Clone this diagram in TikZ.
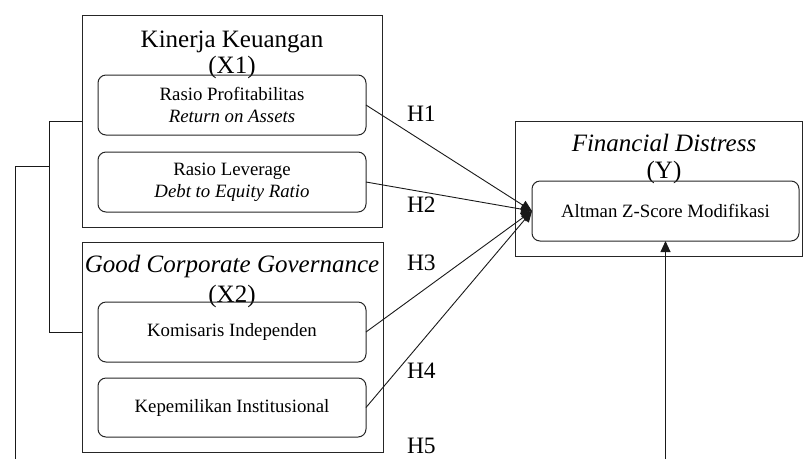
\documentclass[tikz,border=0pt]{standalone}
\usepackage{fontspec}
\setmainfont{Liberation Serif}
\usetikzlibrary{arrows.meta}
\begin{document}
\begin{tikzpicture}[x=1pt,y=-1pt,
  every node/.style={outer sep=0pt,inner sep=0pt},
  outerbox/.style={draw=black!85,line width=1pt,rectangle},
  innerbox/.style={draw=black!85,line width=1pt,rectangle,rounded corners=8pt,align=center,
    font=\fontsize{18.8}{22}\selectfont},
  titletext/.style={anchor=base,font=\fontsize{25}{30}\selectfont},
  hlabel/.style={anchor=base west,font=\fontsize{23.5}{26}\selectfont},
  conn/.style={line width=0.9pt,black!90},
  arr/.style={conn,-{Triangle[length=11pt,width=10pt]}}]
\useasboundingbox (0,0) rectangle (803,459);
% outer boxes
\node[outerbox,minimum width=300pt,minimum height=212pt] (x1) at (232,121) {};
\node[outerbox,minimum width=301pt,minimum height=210pt] (x2) at (232.5,347) {};
\node[outerbox,minimum width=287pt,minimum height=135pt] (y) at (658.5,188.5) {};
% titles
\node[titletext] (t1a) at (232,47) {Kinerja Keuangan};
\node[titletext] (t1b) at (232,73) {(X1)};
\node[titletext] (t2a) at (232,272) {\itshape Good Corporate Governance};
\node[titletext] (t2b) at (232,302) {(X2)};
\node[titletext] (t3a) at (664,151) {\itshape Financial Distress};
\node[titletext] (t3b) at (664,178) {(Y)};
% inner boxes
\node[innerbox,minimum width=268pt,minimum height=60pt] (roa) at (232,105) {Rasio Profitabilitas\\\itshape Return on Assets};
\node[innerbox,minimum width=268pt,minimum height=60pt] (der) at (232,182) {Rasio Leverage\\\itshape Debt to Equity Ratio};
\node[innerbox,minimum width=268pt,minimum height=60pt] (ki) at (232,332) {Komisaris Independen};
\node[innerbox,minimum width=268pt,minimum height=59pt] (kep) at (232,407.5) {Kepemilikan Institusional};
\node[innerbox,minimum width=267pt,minimum height=60pt] (alt) at (665.5,211) {Altman Z-Score Modifikasi};
% hypothesis labels
\node[hlabel] (h1) at (407,121) {H1};
\node[hlabel] (h2) at (407,212) {H2};
\node[hlabel] (h3) at (407,270) {H3};
\node[hlabel] (h4) at (407,378) {H4};
\node[hlabel] (h5) at (407,453) {H5};
% arrows
\draw[arr] (roa.east) -- (alt.west);
\draw[arr] (der.east) -- (alt.west);
\draw[arr] (ki.east) -- (alt.west);
\draw[arr] (kep.east) -- (alt.west);
% bracket
\coordinate (bk) at (49,166);
\coordinate (lb) at (15,459);
\draw[conn] (x1.west) -- (bk |- x1.west) -- (bk |- ki.west) -- (x2.west |- ki.west);
\draw[conn] (bk) -- (bk -| lb) -- (lb);
% vertical arrow H5
\coordinate (vb) at (alt.south |- lb);
\draw[arr] (vb) -- (alt.south);
\end{tikzpicture}
\end{document}
